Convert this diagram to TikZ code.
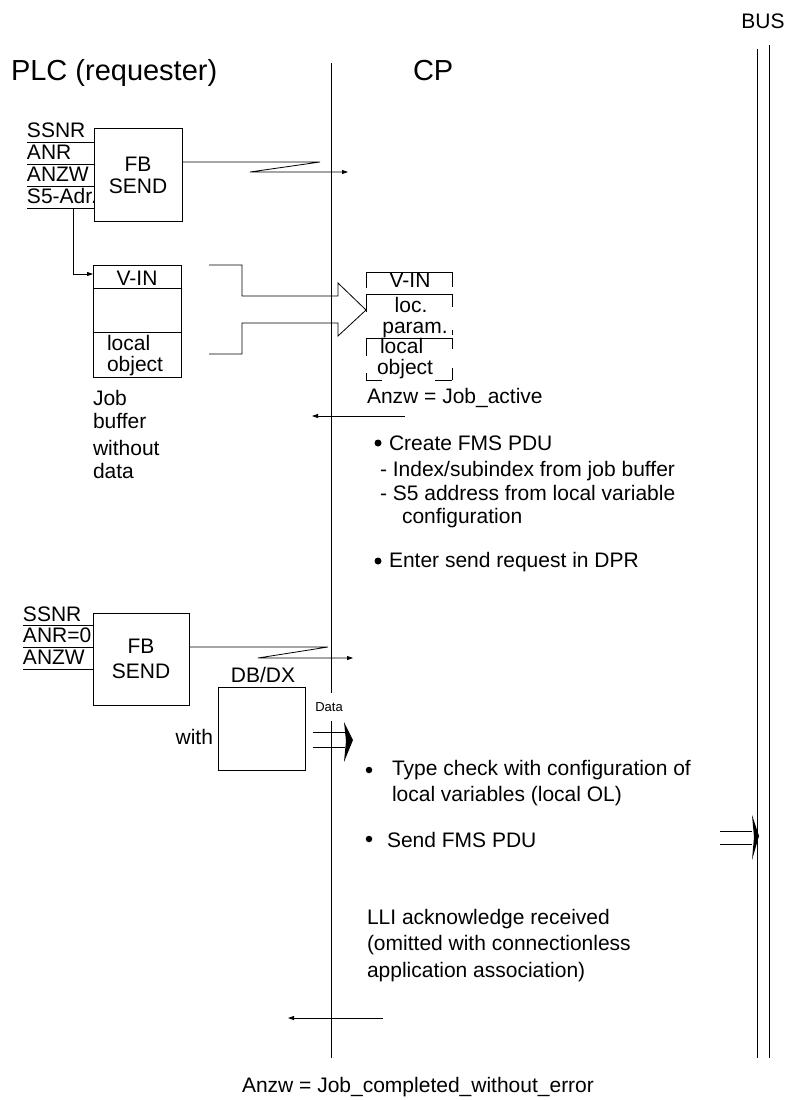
\documentclass[tikz,border=0pt]{standalone}
\usepackage{fontspec}
\setmainfont{Liberation Sans}
\usetikzlibrary{arrows.meta}
\begin{document}
\begin{tikzpicture}[x=1pt,y=-1pt,
  every node/.style={inner sep=0pt, outer sep=0pt},
  txt/.style={font=\fontsize{21}{22}\selectfont},
  big/.style={font=\fontsize{29}{32}\selectfont},
  small/.style={font=\fontsize{13}{15}\selectfont},
  ln/.style={line width=0.8pt},
  arr/.style={ln,-{Triangle[length=6pt,width=4pt]}},
  dot/.style={circle,fill=black,minimum size=7pt},
  blk/.style={draw,ln,txt,align=center}
]
\useasboundingbox (0,0) rectangle (790,1100);

% headings
\node[txt] (bus) at (763,21) {BUS};
\node[big,anchor=base west] (plc) at (11,80) {PLC (requester)};
\node[big,anchor=base west] (cp) at (413,80) {CP};

% life lines
\coordinate (cpT) at (331,63);  \coordinate (cpB) at (331,1058);
\coordinate (b1T) at (757,49);  \coordinate (b1B) at (757,1058);
\coordinate (b2T) at (769,45);  \coordinate (b2B) at (769,1058);
\draw[ln] (cpT) -- (cpB);
\draw[ln] (b1T) -- (b1B);
\draw[ln] (b2T) -- (b2B);

% ---------- first FB SEND ----------
\node[blk,minimum width=88pt,minimum height=93pt] (fb1) at (138,175) {FB\\SEND};
\coordinate (i1a) at (27,142); \coordinate (i1b) at (27,164);
\coordinate (i1c) at (27,186); \coordinate (i1d) at (27,208);
\draw[ln] (i1a) -- (i1a -| fb1.west);
\draw[ln] (i1b) -- (i1b -| fb1.west);
\draw[ln] (i1c) -- (i1c -| fb1.west);
\draw[ln] (i1d) -- (i1d -| fb1.west);
\node[txt,anchor=base west] (l1a) at (27,137) {SSNR};
\node[txt,anchor=base west] (l1b) at (27,159) {ANR};
\node[txt,anchor=base west] (l1c) at (27,181) {ANZW};
\node[txt,anchor=base west] (l1d) at (27,203) {S5-Adr.};

\coordinate (o1a) at (320,162); \coordinate (o1b) at (250,172); \coordinate (o1c) at (348,172);
\draw[arr] (fb1.east |- o1a) -- (o1a) -- (o1b) -- (o1c);

% job buffer
\node[draw,ln,minimum width=88pt,minimum height=112pt] (jb) at (137,321) {};
\draw[ln] (93,288) -- (181,288);
\draw[ln] (93,332) -- (181,332);
\node[txt,anchor=base] (jbv) at (137,285) {V-IN};
\node[txt,anchor=base west] (jbl) at (107,350) {local};
\node[txt,anchor=base west] (jbo) at (107,371) {object};
\coordinate (s5a) at (73,208); \coordinate (s5b) at (73,274);
\draw[arr] (s5a) -- (s5b) -- (s5b -| jb.west);

\node[txt,anchor=base west] (jt1) at (93,405) {Job};
\node[txt,anchor=base west] (jt2) at (93,428) {buffer};
\node[txt,anchor=base west] (jt3) at (93,455) {without};
\node[txt,anchor=base west] (jt4) at (93,478) {data};

% big hollow arrow
\draw[ln] (209,265) -- (242,265) -- (242,296) -- (338,296) -- (338,283) -- (366,310)
  -- (338,336) -- (338,323) -- (242,323) -- (242,354) -- (209,354);

% CP side buffer (broken frame)
\draw[ln] (366,272) -- (452,272);
\draw[ln] (366,294) -- (452,294);
\draw[ln] (366,338) -- (452,338);
\draw[ln] (366,380) -- (382,380);
\draw[ln] (435,380) -- (452,380);
\draw[ln] (366,272) -- (366,288);
\draw[ln] (366,294) -- (366,312);
\draw[ln] (366,338) -- (366,356);
\draw[ln] (366,373) -- (366,380);
\draw[ln] (452,272) -- (452,287);
\draw[ln] (452,294) -- (452,307);
\draw[ln] (452,330) -- (452,335);
\draw[ln] (452,338) -- (452,349);
\draw[ln] (452,368) -- (452,380);
\node[txt,anchor=base] (cv) at (410,287) {V-IN};
\node[txt,anchor=base] (cl) at (411,312) {loc.};
\node[txt,anchor=base] (cpm) at (415,333) {param.};
\node[txt,anchor=base west] (clo) at (380,353) {local};
\node[txt,anchor=base west] (cob) at (377,374) {object};

\node[txt,anchor=base west] (ja) at (367,403) {Anzw = Job\_active};
\coordinate (r1a) at (405,416); \coordinate (r1b) at (312,416);
\draw[arr] (r1a) -- (r1b);

% processing steps
\node[dot] (d1) at (378,443) {};
\node[txt,anchor=base west] (s1) at (389,450) {Create FMS PDU};
\node[txt,anchor=base west] (s2) at (380,476) {- Index/subindex from job buffer};
\node[txt,anchor=base west] (s3) at (380,500) {- S5 address from local variable};
\node[txt,anchor=base west] (s4) at (402,523) {configuration};
\node[dot] (d2) at (378,561) {};
\node[txt,anchor=base west] (s5) at (389,567) {Enter send request in DPR};

% ---------- second FB SEND ----------
\node[blk,minimum width=96pt,minimum height=92pt,font=\fontsize{21}{25}\selectfont] (fb2) at (141,659) {FB\\SEND};
\coordinate (i2a) at (23,625); \coordinate (i2b) at (23,647); \coordinate (i2c) at (23,669);
\draw[ln] (i2a) -- (i2a -| fb2.west);
\draw[ln] (i2b) -- (i2b -| fb2.west);
\draw[ln] (i2c) -- (i2c -| fb2.west);
\node[txt,anchor=base west] (l2a) at (23,621) {SSNR};
\node[txt,anchor=base west] (l2b) at (23,642) {ANR=0};
\node[txt,anchor=base west] (l2c) at (23,664) {ANZW};

\coordinate (o2a) at (328,647); \coordinate (o2b) at (258,658); \coordinate (o2c) at (353,658);
\draw[arr] (fb2.east |- o2a) -- (o2a) -- (o2b) -- (o2c);

\node[txt,anchor=base] (dbl) at (263,682) {DB/DX};
\node[draw,ln,minimum width=87pt,minimum height=83pt] (db) at (261.5,728.5) {};
\node[txt,anchor=base east] (with) at (213,744) {with};

\node[small,fill=white,minimum width=34pt,minimum height=28pt] (data) at (329,707) {Data};
\coordinate (da1) at (313,732); \coordinate (da2) at (313,747);
\coordinate (dh) at (345,740);
\draw[ln] (da1) -- (da1 -| dh);
\draw[ln] (da2) -- (da2 -| dh);
\fill (344,722) -- (353,740) -- (344,762) -- (346,741) -- cycle;

\node[dot,minimum size=6.5pt] (d3) at (369,770) {};
\node[txt,anchor=base west] (t1) at (392,775) {Type check with configuration of};
\node[txt,anchor=base west] (t2) at (392,801) {local variables (local OL)};
\node[dot,minimum size=6.5pt] (d4) at (369,839) {};
\node[txt,anchor=base west] (t3) at (387,847) {Send FMS PDU};

% bus arrow
\coordinate (ba1) at (720,831); \coordinate (ba2) at (720,844);
\coordinate (bh) at (752,838);
\draw[ln] (ba1) -- (ba1 -| bh);
\draw[ln] (ba2) -- (ba2 -| bh);
\fill (752,815) -- (759,836) -- (752,860) -- (754,837) -- cycle;

% acknowledge
\node[txt,anchor=base west] (k1) at (367,924) {LLI acknowledge received};
\node[txt,anchor=base west] (k2) at (367,950) {(omitted with connectionless};
\node[txt,anchor=base west] (k3) at (367,977) {application association)};
\coordinate (r2a) at (383,1018); \coordinate (r2b) at (288,1018);
\draw[arr] (r2a) -- (r2b);

\node[txt,anchor=base] (jc) at (418,1092) {Anzw = Job\_completed\_without\_error};
\end{tikzpicture}
\end{document}
